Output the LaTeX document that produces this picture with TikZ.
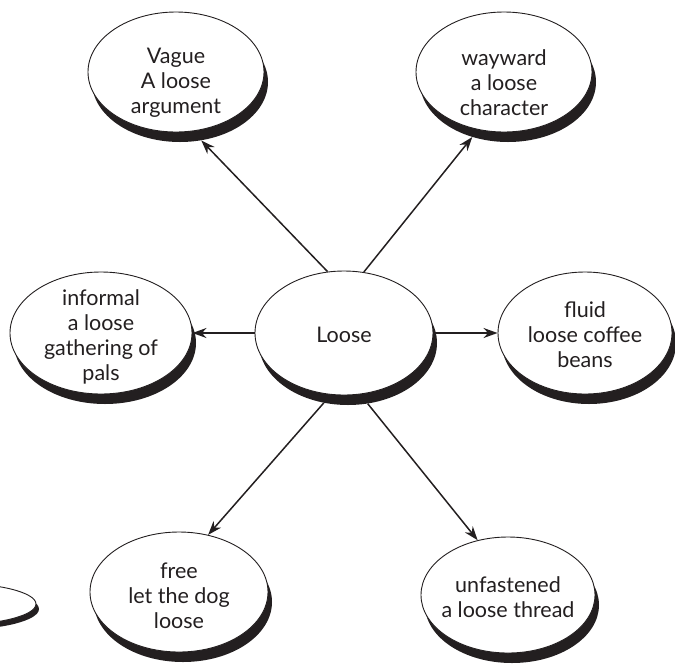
\documentclass[tikz,border=0pt]{standalone}
\usepackage{fontspec}
\setmainfont{Lato}
\usetikzlibrary{shapes.geometric,arrows.meta}
\definecolor{ink}{HTML}{231F20}
\begin{document}
\begin{tikzpicture}[x=1pt,y=-1pt,
  shadowell/.style={ellipse,fill=ink,draw=none,inner sep=0pt},
  bubble/.style={ellipse,fill=white,draw=ink,line width=0.9pt,inner sep=0pt},
  lbl/.style={align=center,font=\fontsize{21.5}{25}\selectfont,text=ink,inner sep=0pt},
  conn/.style={draw=ink,line width=1.5pt,-{Stealth[length=14pt,width=10pt]}}]
\useasboundingbox (0,0) rectangle (675,665);
% partial ellipse at the left edge
\node[shadowell,minimum width=168pt,minimum height=42pt] (parts) at (-45,609) {};
\node[bubble,minimum width=168pt,minimum height=42pt] (part) at (-48,604) {};
% Vague
\node[shadowell,minimum width=176pt,minimum height=120pt] (vagues) at (180,82) {};
\node[bubble,minimum width=176pt,minimum height=120pt] (vague) at (176,72) {};
\node[lbl] (vaguet) at (176,83) {Vague\\A loose\\argument};
% wayward
\node[shadowell,minimum width=176pt,minimum height=120pt] (waywards) at (508,82) {};
\node[bubble,minimum width=176pt,minimum height=120pt] (wayward) at (504,72) {};
\node[lbl] (waywardt) at (504,83) {wayward\\a loose\\character};
% informal
\node[shadowell,minimum width=182pt,minimum height=122pt] (informals) at (105,343) {};
\node[bubble,minimum width=182pt,minimum height=122pt] (informal) at (101,333) {};
\node[lbl] (informalt) at (101,337) {informal\\a loose\\gathering of\\pals};
% Loose
\node[shadowell,minimum width=178pt,minimum height=124pt] (looses) at (348,343) {};
\node[bubble,minimum width=178pt,minimum height=124pt] (loose) at (344,333) {};
\node[lbl] (looset) at (344,335) {Loose};
% fluid
\node[shadowell,minimum width=174pt,minimum height=122pt] (fluids) at (589,343) {};
\node[bubble,minimum width=174pt,minimum height=122pt] (fluid) at (585,333) {};
\node[lbl] (fluidt) at (585,335) {fluid\\loose coffee\\beans};
% free
\node[shadowell,minimum width=178pt,minimum height=120pt] (frees) at (183,602) {};
\node[bubble,minimum width=178pt,minimum height=120pt] (free) at (179,592) {};
\node[lbl] (freet) at (179,596) {free\\let the dog\\loose};
% unfastened
\node[shadowell,minimum width=174pt,minimum height=116pt] (unfasts) at (512,605) {};
\node[bubble,minimum width=174pt,minimum height=116pt] (unfast) at (508,595) {};
\node[lbl] (unfastt) at (508,597) {unfastened\\a loose thread};
% connectors
\draw[conn] (loose.105.6) -- (vagues.-70);
\draw[conn] (loose.72.7) -- (waywards.-123.3);
\draw[conn] (loose.west) -- (informal.east);
\draw[conn] (loose.east) -- (fluid.west);
\draw[conn] (looses.-112) -- (free.63.8);
\draw[conn] (looses.-72) -- (unfast.119.6);
\end{tikzpicture}
\end{document}
